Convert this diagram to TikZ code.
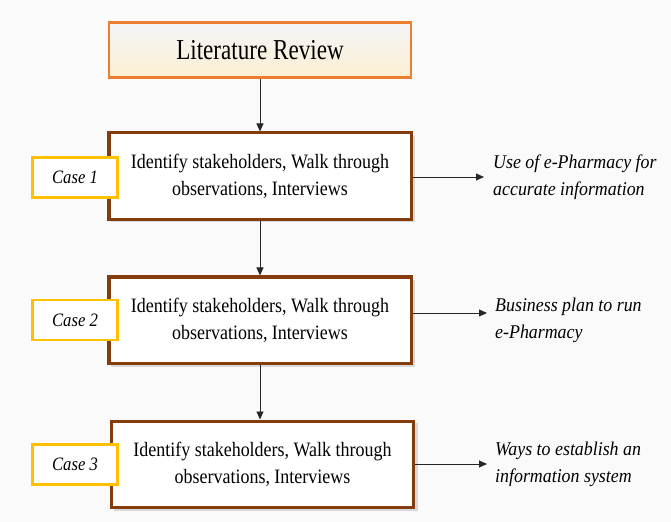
\documentclass[tikz,border=0pt]{standalone}
\usepackage{fontspec}
\setmainfont{Liberation Serif}
\newfontfamily\lrfont[FakeStretch=0.8]{Liberation Serif}
\newfontfamily\casefont[FakeStretch=0.88]{Liberation Serif}
\newfontfamily\outfont[FakeStretch=0.92,ItalicFont={Liberation Serif Italic}]{Liberation Serif}
\usetikzlibrary{arrows.meta}
\definecolor{bgc}{HTML}{FAFAFA}
\definecolor{orangeb}{HTML}{ED7D31}
\definecolor{brownb}{HTML}{843C0C}
\definecolor{yellowb}{HTML}{FFC000}
\definecolor{creamb}{HTML}{FBEFD2}
\definecolor{topb}{HTML}{F5F5F8}
\tikzset{
  litbox/.style={draw=orangeb, line width=2.5bp, top color=topb, bottom color=creamb,
    minimum width=302bp, minimum height=55bp, inner sep=0pt,
    font=\lrfont\fontsize{29}{32}\selectfont},
  casebox/.style={draw=brownb, line width=3bp, fill=white,
    minimum width=302bp, minimum height=86bp, inner sep=0pt, align=center,
    font=\casefont\fontsize{20.5}{27}\selectfont},
  caselabel/.style={draw=yellowb, line width=2.4bp, fill=white,
    minimum width=85bp, minimum height=40bp, inner sep=0pt, align=left,
    font=\casefont\itshape\fontsize{19}{22}\selectfont},
  outtext/.style={anchor=west, align=left, inner sep=0pt,
    font=\outfont\itshape\fontsize{19.5}{27}\selectfont},
  conn/.style={draw=black!85, line width=0.9bp, -{Triangle[length=8bp,width=7bp]}},
  shadowbox/.style={fill=black!15, draw=none}
}
\begin{document}
\begin{tikzpicture}[x=1bp,y=-1bp]
\fill[bgc] (0,0) rectangle (671,522);
\useasboundingbox (0,0) rectangle (671,522);

% Literature review
\node[litbox] (lit) at (260,50) {Literature Review};

% shadows
\fill[shadowbox] (111,136) rectangle (414.5,222);
\fill[shadowbox] (111,280) rectangle (414.5,367);
\fill[shadowbox] (114,423) rectangle (417.5,511);

% Case boxes
\node[casebox] (c1) at (260,176) {Identify stakeholders, Walk through\\observations, Interviews};
\node[casebox] (c2) at (260,320) {Identify stakeholders, Walk through\\observations, Interviews};
\node[casebox] (c3) at (262.5,464) {Identify stakeholders, Walk through\\observations, Interviews};

% Case labels
\node[caselabel] (l1) at (75,177.5) {Case 1};
\node[caselabel] (l2) at (75,320) {Case 2};
\node[caselabel] (l3) at (75,464.5) {Case 3};

% outputs
\node[outtext] (o1) at (493,177) {Use of e-Pharmacy for\\accurate information};
\node[outtext] (o2) at (495,320) {Business plan to run\\e-Pharmacy};
\node[outtext] (o3) at (495,464) {Ways to establish an\\information system};

% arrow ends
\coordinate (e1) at (484,177);
\coordinate (e2) at (487,313);
\coordinate (e3) at (487,464);

% connectors
\draw[conn] (lit.south) -- (c1.north);
\draw[conn] (c1.south) -- (c2.north);
\draw[conn] (c2.south) -- (c3.north -| c2.south);
\draw[conn] (c1.east |- e1) -- (e1);
\draw[conn] (c2.east |- e2) -- (e2);
\draw[conn] (c3.east |- e3) -- (e3);
\end{tikzpicture}
\end{document}
